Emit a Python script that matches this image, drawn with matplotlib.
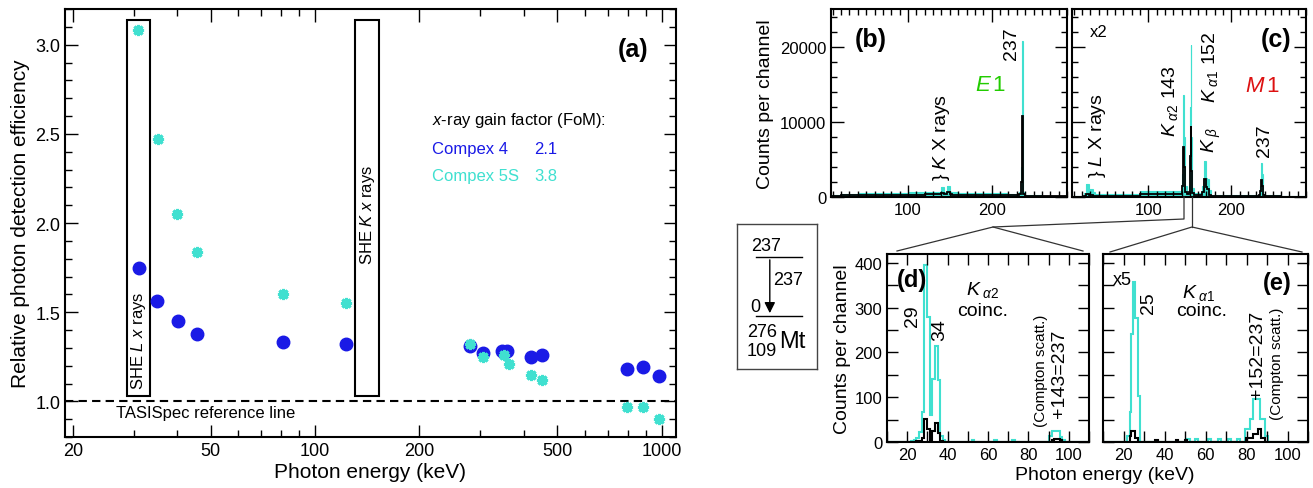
import matplotlib
matplotlib.use('Agg')
import matplotlib.pyplot as plt
from matplotlib.lines import Line2D
from matplotlib.patches import Rectangle
from matplotlib.ticker import MultipleLocator, FixedLocator, FuncFormatter, NullFormatter

plt.rcParams['font.family'] = ['Liberation Sans', 'DejaVu Sans']
plt.rcParams['mathtext.fontset'] = 'custom'
plt.rcParams['mathtext.rm'] = 'Liberation Sans'
plt.rcParams['mathtext.it'] = 'Liberation Sans:italic'
plt.rcParams['mathtext.bf'] = 'Liberation Sans:bold'

BLUE = '#1a1ae6'
CYAN = '#40e0d0'
W, H = 1313, 489

# (a) relative photon detection efficiency
energy_c4 = [31.0, 35.1, 40.2, 45.8, 81.0, 123, 280, 306, 347, 358, 419, 452, 793, 883, 980]
eff_c4 = [1.75, 1.56, 1.45, 1.38, 1.33, 1.32, 1.31, 1.27, 1.28, 1.28, 1.25, 1.26, 1.18, 1.19, 1.14]
energy_c5 = [30.8, 35.2, 40.0, 45.8, 81.0, 123, 280, 306, 350, 362, 419, 452, 793, 883, 980]
eff_c5 = [3.08, 2.47, 2.05, 1.84, 1.60, 1.55, 1.32, 1.25, 1.26, 1.21, 1.15, 1.12, 0.97, 0.97, 0.90]
shel_band = (28.6, 33.4)
shek_band = (130.6, 153.0)
band_y = (1.03, 3.14)

# (b) singles spectrum, E1 setting
b_edges = [8, 20, 40, 60, 80, 100, 120, 136, 140, 143, 147, 150, 153, 160, 180, 200, 220,
           233, 235, 236, 237, 238, 240, 260, 290]
b_cyan = [250, 450, 500, 530, 560, 600, 650, 700, 1290, 700, 1510, 700, 600, 550, 500, 480,
          450, 700, 4000, 20800, 14000, 700, 250, 150]
b_black = [120, 250, 280, 300, 320, 330, 350, 380, 550, 380, 600, 380, 330, 300, 280, 260,
           250, 350, 2000, 10800, 7000, 350, 120, 80]

# (c) singles spectrum, M1 setting (shown x2)
c_edges = [8, 22, 25, 28, 30, 33, 36, 50, 70, 90, 110, 130, 139, 141, 142, 143, 144, 146, 149,
           150, 151, 152, 153, 155, 160, 165, 167, 169, 171, 173, 176, 185, 210, 233, 235, 236,
           237, 238, 240, 260, 290]
c_cyan = [100, 500, 1730, 700, 1070, 600, 350, 350, 400, 850, 850, 850, 900, 3000, 13500, 8000,
          1500, 700, 1500, 12000, 20170, 8000, 1200, 500, 500, 1500, 4840, 2500, 2400, 900,
          300, 250, 250, 400, 1500, 4490, 3000, 400, 200, 150]
c_black = [40, 150, 400, 200, 300, 150, 120, 120, 150, 400, 400, 380, 400, 1500, 6670, 4000,
           700, 350, 700, 5500, 9500, 3500, 500, 200, 200, 600, 2400, 1300, 1000, 300,
           120, 100, 100, 200, 800, 2270, 1400, 200, 80, 60]

# (d) coincidences with K-alpha2
d_cyan_edges = [10, 22.0, 23.3, 24.6, 25.9, 27.2, 28.5, 29.8, 31.1, 32.4, 33.7, 35.0, 36.3,
                37.6, 38.9, 52.0, 53.3, 63.0, 64.3, 72.0, 73.3, 90.3, 91.6, 92.9, 94.2, 95.5,
                96.8, 98.1, 110]
d_cyan = [0, 3, 5, 10, 23, 67, 395, 280, 60, 140, 215, 138, 14, 5, 0, 4, 0, 4, 0, 4, 0,
          14, 25, 25, 25, 12, 4, 0]
d_black_edges = [10, 24.6, 25.9, 27.2, 28.5, 29.8, 31.1, 32.4, 33.7, 35.0, 36.3, 37.6, 91.6,
                 92.9, 94.2, 95.5, 96.8, 110]
d_black = [0, 2, 3, 10, 52, 29, 3, 25, 43, 20, 3, 0, 4, 6, 6, 4, 0]

# (e) coincidences with K-alpha1 (shown x5)
e_cyan_edges = [10, 21.9, 23.0, 23.8, 24.6, 25.8, 27.1, 28.2, 51.0, 52.5, 55.0, 56.5, 61.0,
                62.5, 66.0, 67.5, 71.0, 72.5, 75.5, 77.0, 79.1, 81.5, 83.2, 86.8, 89.0, 90.6, 110]
e_cyan = [0, 13, 66, 242, 358, 276, 103, 0, 6, 0, 6, 0, 6, 0, 6, 0, 6, 0, 6, 0, 29, 51, 96,
          51, 13, 0]
e_black_edges = [10, 23.0, 23.8, 25.8, 27.1, 35.5, 36.7, 45.5, 46.7, 50.0, 51.2, 79.9, 83.2,
                 85.6, 87.3, 89.0, 110]
e_black = [0, 13, 25, 10, 0, 5, 0, 5, 0, 5, 0, 10, 18, 29, 8, 0]

fig = plt.figure(figsize=(W / 100, H / 100), dpi=100)


def add_ax(x0, y0, x1, y1):
    # box in pixels, measured from the top-left corner
    return fig.add_axes([x0 / W, 1 - y1 / H, (x1 - x0) / W, (y1 - y0) / H])


def frame(ax, major=9, minor=5, size=12):
    ax.tick_params(which='both', direction='in', top=True, right=True, width=1, labelsize=size)
    ax.tick_params(which='major', length=major)
    ax.tick_params(which='minor', length=minor)
    for s in ax.spines.values():
        s.set_linewidth(1.5)


# ---- (a) ----
ax = add_ax(65, 10, 676, 438)
ax.set_xscale('log')
ax.set_xlim(19, 1100)
ax.set_ylim(0.8, 3.2)
ax.axhline(1.0, color='k', ls=(0, (4, 2.5)), lw=1.5)
ax.plot(energy_c4, eff_c4, 'o', color=BLUE, ms=9, zorder=3)
ax.plot(energy_c5, eff_c5, marker=(8, 2, 0), ls='none', color=CYAN, ms=8, mew=2.2, zorder=4)
for lo, hi in (shel_band, shek_band):
    ax.add_patch(Rectangle((lo, band_y[0]), hi - lo, band_y[1] - band_y[0],
                           fill=False, ec='k', lw=1.5, zorder=2))
ax.text((shel_band[0] * shel_band[1]) ** 0.5, 1.07, r'SHE $L$ $x$ rays', rotation=90,
        ha='center', va='bottom', fontsize=12)
ax.text((shek_band[0] * shek_band[1]) ** 0.5, 2.05, r'SHE $K$ $x$ rays', rotation=90,
        ha='center', va='center', fontsize=12)
ax.text(26.6, 0.935, 'TASISpec reference line', fontsize=12, va='center')
ax.text(0.955, 0.906, '(a)', transform=ax.transAxes, ha='right', va='center',
        fontsize=18, fontweight='bold')
ax.text(0.60, 0.741, r'$x$-ray gain factor (FoM):', transform=ax.transAxes, fontsize=12,
        va='center')
ax.text(0.60, 0.673, 'Compex 4', transform=ax.transAxes, fontsize=12, va='center', color=BLUE)
ax.text(0.768, 0.673, '2.1', transform=ax.transAxes, fontsize=12, va='center', color=BLUE)
ax.text(0.60, 0.612, 'Compex 5S', transform=ax.transAxes, fontsize=12, va='center', color=CYAN)
ax.text(0.768, 0.612, '3.8', transform=ax.transAxes, fontsize=12, va='center', color=CYAN)
ax.xaxis.set_major_locator(FixedLocator([20, 50, 100, 200, 500, 1000]))
ax.xaxis.set_major_formatter(FuncFormatter(lambda v, _: f'{v:g}'))
ax.xaxis.set_minor_locator(FixedLocator([30, 40, 60, 70, 80, 90, 300, 400, 600, 700, 800, 900]))
ax.xaxis.set_minor_formatter(NullFormatter())
ax.yaxis.set_major_locator(MultipleLocator(0.5))
ax.yaxis.set_minor_locator(MultipleLocator(0.1))
ax.yaxis.set_major_formatter(FuncFormatter(lambda v, _: f'{v:.1f}'))
frame(ax, size=13)
ax.set_xlabel('Photon energy (keV)', fontsize=15, labelpad=2)
ax.set_ylabel('Relative photon detection efficiency', fontsize=15)

# ---- (b) and (c) ----
axb = add_ax(831, 10, 1067, 198)
axc = add_ax(1072, 10, 1306, 198)
for a, cy, bk in ((axb, b_cyan, b_black), (axc, c_cyan, c_black)):
    edges = b_edges if a is axb else c_edges
    a.stairs(cy, edges, fill=True, color=CYAN, lw=0)
    a.stairs(cy, edges, color=CYAN, lw=0.8)
    a.stairs(bk, edges, color='k', lw=1.3)
    a.set_xlim(8, 290)
    a.set_ylim(0, 25000)
    a.xaxis.set_major_locator(MultipleLocator(100))
    a.xaxis.set_minor_locator(MultipleLocator(10))
    a.yaxis.set_major_locator(MultipleLocator(10000))
    a.yaxis.set_minor_locator(MultipleLocator(2000))
    frame(a, major=9, minor=4.5)
axc.tick_params(labelleft=False)
axb.set_ylabel('Counts per channel', fontsize=14)

axb.text(55, 21000, '(b)', fontsize=18, fontweight='bold', ha='center', va='center')
axb.text(224, 20500, '237', rotation=90, fontsize=14, ha='center', va='center')
axb.text(199, 15000, r'$E\,$1', fontsize=16, color='#22cc00', ha='center', va='center')
axb.text(140.5, 2300, r'} $K$ X rays', rotation=90, fontsize=14, ha='center', va='bottom')

axc.text(40, 22000, 'x2', fontsize=12, ha='center', va='center')
axc.text(254, 21000, '(c)', fontsize=18, fontweight='bold', ha='center', va='center')
axc.text(39, 2700, r'} $L$ X rays', rotation=90, fontsize=14, ha='center', va='bottom')
axc.text(126, 8100, r'$K_{\ \alpha2}$ 143', rotation=90, fontsize=14, ha='center', va='bottom')
axc.text(174, 12600, r'$K_{\ \alpha1}$ 152', rotation=90, fontsize=14, ha='center', va='bottom')
axc.text(176, 6000, r'$K_{\ \beta}$', rotation=90, fontsize=14, ha='center', va='bottom')
axc.text(240.5, 5400, '237', rotation=90, fontsize=14, ha='center', va='bottom')
axc.text(238, 14800, r'$M\,$1', fontsize=16, color='#dd1111', ha='center', va='center')

# ---- (d) and (e) ----
axd = add_ax(887, 255, 1089, 443)
axe = add_ax(1103, 255, 1308, 443)
for a, ce, cy, be, bk in ((axd, d_cyan_edges, d_cyan, d_black_edges, d_black),
                          (axe, e_cyan_edges, e_cyan, e_black_edges, e_black)):
    a.stairs(cy, ce, color=CYAN, lw=1.5)
    a.stairs(bk, be, color='k', lw=1.5)
    a.set_xlim(10, 110)
    a.set_ylim(0, 420)
    a.xaxis.set_major_locator(MultipleLocator(20))
    a.xaxis.set_minor_locator(MultipleLocator(10))
    a.yaxis.set_major_locator(MultipleLocator(100))
    a.yaxis.set_minor_locator(MultipleLocator(50))
    frame(a, major=8, minor=8)
axe.tick_params(labelleft=False)
axd.set_ylabel('Counts per channel', fontsize=14, labelpad=2)
fig.text(1105 / W, 1 - 476 / H, 'Photon energy (keV)', fontsize=14, ha='center', va='center')

axd.text(22.4, 362, '(d)', fontsize=17, fontweight='bold', ha='center', va='center')
axd.text(57.5, 342, r'$K_{\ \alpha2}$', fontsize=14, ha='center', va='center')
axd.text(57.5, 293, 'coinc.', fontsize=14, ha='center', va='center')
axd.text(22.4, 284, '29', rotation=90, fontsize=14, ha='center', va='center')
axd.text(36.2, 252, '34', rotation=90, fontsize=14, ha='center', va='center')
axd.text(86.2, 161, '(Compton scatt.)', rotation=90, fontsize=11, ha='center', va='center')
axd.text(95.6, 154, '+143=237', rotation=90, fontsize=14, ha='center', va='center')

axe.text(19.3, 364, 'x5', fontsize=13, ha='center', va='center')
axe.text(32, 313, '25', rotation=90, fontsize=14, ha='center', va='center')
axe.text(56.8, 335, r'$K_{\ \alpha1}$', fontsize=14, ha='center', va='center')
axe.text(58.3, 293, 'coinc.', fontsize=14, ha='center', va='center')
axe.text(94.9, 357, '(e)', fontsize=17, fontweight='bold', ha='center', va='center')
axe.text(85.6, 197, '+152=237', rotation=90, fontsize=14, ha='center', va='center')
axe.text(94.9, 176, '(Compton scatt.)', rotation=90, fontsize=11, ha='center', va='center')

# connectors from the K-alpha peaks in (c) down to (d) and (e)
def fig_line(pts):
    fig.add_artist(Line2D([p[0] / W for p in pts], [1 - p[1] / H for p in pts],
                          color='#333333', lw=0.9))

fig_line([(1184, 198), (1184, 220), (993, 228)])
fig_line([(897, 252), (993, 228), (1083, 252)])
fig_line([(1192, 198), (1192, 228)])
fig_line([(1110, 253), (1192, 228), (1302, 253)])

# level scheme of 276Mt
axs = add_ax(737, 225, 817, 370)
axs.set_xlim(0, 1)
axs.set_ylim(0, 1)
axs.set_xticks([])
axs.set_yticks([])
for s in axs.spines.values():
    s.set_color('#444444')
    s.set_linewidth(1)
axs.plot([0.24, 0.81], [0.772, 0.772], color='k', lw=1)
axs.plot([0.24, 0.81], [0.366, 0.366], color='k', lw=1)
axs.annotate('', xy=(0.41, 0.366), xytext=(0.41, 0.772),
             arrowprops=dict(arrowstyle='-|>', color='k', lw=1, mutation_scale=16))
axs.text(0.36, 0.85, '237', fontsize=13, ha='center', va='center')
axs.text(0.45, 0.62, '237', fontsize=13, ha='left', va='center')
axs.text(0.23, 0.43, '0', fontsize=13, ha='center', va='center')
axs.text(0.31, 0.26, '276', fontsize=13, ha='center', va='center')
axs.text(0.31, 0.13, '109', fontsize=13, ha='center', va='center')
axs.text(0.53, 0.19, 'Mt', fontsize=17, ha='left', va='center')

fig.savefig('out.png', dpi=100)
